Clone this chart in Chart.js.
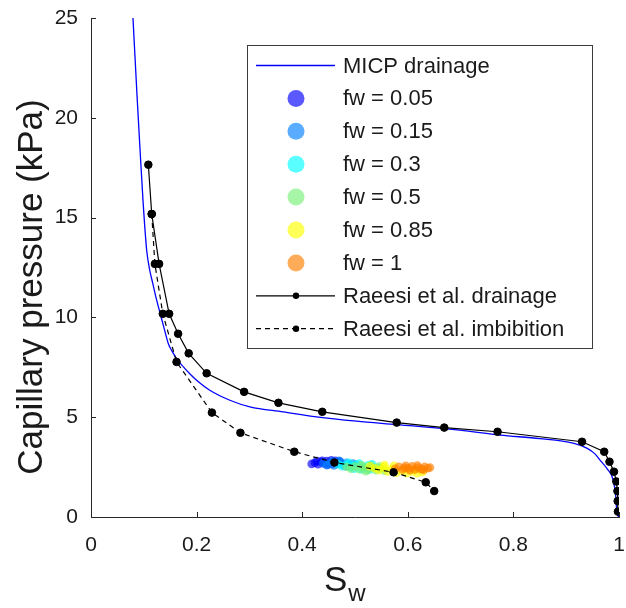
<!DOCTYPE html>
<html>
<head>
<meta charset="utf-8">
<script src="https://cdn.jsdelivr.net/npm/chart.js@4/dist/chart.umd.min.js"></script>
<style>
  html, body { margin: 0; padding: 0; background: #fff; }
  #wrap { width: 626px; height: 608px; }
</style>
</head>
<body>
<div id="wrap"><canvas id="c" width="626" height="608"></canvas></div>
<script>
// Axis ticks
const xTicks = [0, 0.2, 0.4, 0.6, 0.8, 1];
const yTicks = [0, 5, 10, 15, 20, 25];

// MICP drainage curve: water saturation and capillary pressure (kPa)
const micpSw = [0.0795, 0.0877, 0.093, 0.0985, 0.1055, 0.111, 0.117, 0.124, 0.131, 0.139, 0.1465, 0.1527, 0.163, 0.175, 0.188, 0.200, 0.225, 0.263, 0.301, 0.364, 0.427, 0.503, 0.579, 0.699, 0.775, 0.850, 0.913, 0.939, 0.955, 0.964, 0.978, 0.989, 0.994, 0.996, 1.0];
const micpPc = [25.0, 20.85, 18.35, 15.85, 13.35, 12.4, 11.7, 10.9, 10.2, 9.4, 8.68, 8.35, 7.9, 7.52, 7.15, 6.85, 6.35, 5.85, 5.52, 5.27, 5.02, 4.8, 4.63, 4.35, 4.1, 3.93, 3.7, 3.45, 3.15, 2.85, 2.4, 1.85, 1.0, 0.2, 0.0];

// Coreflood steady-state points at each fractional flow
const fw005Sw = [0.418, 0.424, 0.430, 0.436, 0.441, 0.446, 0.450, 0.455, 0.459, 0.463, 0.467, 0.471, 0.448, 0.438, 0.457, 0.428];
const fw005Pc = [2.66, 2.72, 2.64, 2.76, 2.68, 2.80, 2.72, 2.84, 2.76, 2.82, 2.70, 2.78, 2.62, 2.82, 2.66, 2.80];
const fw015Sw = [0.440, 0.447, 0.453, 0.460, 0.466, 0.472, 0.478, 0.484, 0.490, 0.496, 0.470, 0.482, 0.458, 0.502];
const fw015Pc = [2.70, 2.60, 2.72, 2.58, 2.66, 2.76, 2.62, 2.72, 2.58, 2.68, 2.82, 2.54, 2.78, 2.62];
const fw03Sw = [0.468, 0.476, 0.484, 0.492, 0.500, 0.508, 0.516, 0.524, 0.532, 0.540, 0.498, 0.512, 0.488, 0.528];
const fw03Pc = [2.64, 2.54, 2.62, 2.50, 2.60, 2.68, 2.48, 2.58, 2.64, 2.46, 2.42, 2.40, 2.72, 2.38];
const fw05Sw = [0.484, 0.492, 0.500, 0.508, 0.516, 0.524, 0.532, 0.540, 0.548, 0.556, 0.512, 0.530, 0.546, 0.520];
const fw05Pc = [2.52, 2.42, 2.54, 2.40, 2.50, 2.36, 2.48, 2.34, 2.44, 2.32, 2.60, 2.58, 2.54, 2.30];
const fw085Sw = [0.528, 0.538, 0.546, 0.554, 0.562, 0.570, 0.578, 0.588, 0.598, 0.608, 0.618, 0.628, 0.598, 0.556, 0.612, 0.574];
const fw085Pc = [2.54, 2.44, 2.34, 2.50, 2.28, 2.42, 2.22, 2.32, 2.20, 2.28, 2.20, 2.26, 2.40, 2.60, 2.38, 2.56];
const fw1Sw = [0.576, 0.583, 0.590, 0.596, 0.602, 0.608, 0.614, 0.620, 0.626, 0.632, 0.638, 0.642, 0.604, 0.618, 0.630, 0.594];
const fw1Pc = [2.42, 2.52, 2.38, 2.56, 2.44, 2.54, 2.38, 2.48, 2.40, 2.52, 2.44, 2.48, 2.34, 2.58, 2.36, 2.46];

// Raeesi et al. capillary pressure data
const raeDrainSw = [0.1086, 0.115, 0.129, 0.148, 0.165, 0.185, 0.219, 0.290, 0.355, 0.438, 0.579, 0.669, 0.770, 0.930, 0.972, 0.982, 0.9905, 0.995, 0.997, 0.9975, 0.998];
const raeDrainPc = [17.65, 15.18, 12.68, 10.18, 9.18, 8.2, 7.2, 6.27, 5.72, 5.27, 4.73, 4.48, 4.27, 3.77, 3.27, 2.77, 2.27, 1.78, 1.3, 0.8, 0.27];
const raeImbSw = [0.115, 0.121, 0.136, 0.162, 0.229, 0.283, 0.385, 0.461, 0.573, 0.634, 0.650];
const raeImbPc = [15.18, 12.68, 10.18, 7.77, 5.23, 4.22, 3.27, 2.73, 2.24, 1.74, 1.3];

const FONT = '"Liberation Sans", Arial, Helvetica, sans-serif';
const AXIS_COLOR = '#262626';
const TEXT_COLOR = '#1a1a1a';

const pts = (xs, ys) => xs.map((x, i) => ({ x: x, y: ys[i] }));

function scatterSet(label, sw, pc, color) {
  return {
    label: label, data: pts(sw, pc), showLine: false,
    pointRadius: 4.3, pointHoverRadius: 4.3, pointBorderWidth: 0,
    pointBackgroundColor: color, backgroundColor: color, borderColor: color
  };
}

const datasets = [
  { label: 'MICP drainage', data: pts(micpSw, micpPc), showLine: true,
    borderColor: '#0000ff', borderWidth: 1.3, pointRadius: 0, cubicInterpolationMode: 'monotone' },
  scatterSet('fw = 0.05', fw005Sw, fw005Pc, 'rgba(0,0,255,0.65)'),
  scatterSet('fw = 0.15', fw015Sw, fw015Pc, 'rgba(0,128,255,0.65)'),
  scatterSet('fw = 0.3', fw03Sw, fw03Pc, 'rgba(0,255,255,0.65)'),
  scatterSet('fw = 0.5', fw05Sw, fw05Pc, 'rgba(120,240,120,0.65)'),
  scatterSet('fw = 0.85', fw085Sw, fw085Pc, 'rgba(255,255,0,0.65)'),
  scatterSet('fw = 1', fw1Sw, fw1Pc, 'rgba(255,128,0,0.65)'),
  { label: 'Raeesi et al. drainage', data: pts(raeDrainSw, raeDrainPc), showLine: true,
    borderColor: '#000', borderWidth: 1.2, pointRadius: 3.8, pointBorderWidth: 1,
    pointBackgroundColor: '#000', pointBorderColor: '#000', tension: 0 },
  { label: 'Raeesi et al. imbibition', data: pts(raeImbSw, raeImbPc), showLine: true,
    borderColor: '#000', borderWidth: 1.2, borderDash: [5, 4], pointRadius: 3.8, pointBorderWidth: 1,
    pointBackgroundColor: '#000', pointBorderColor: '#000', tension: 0 }
];
// later series are drawn on top
datasets.forEach((d, i) => { d.order = datasets.length - i; });

// Inward ticks, axis titles and the boxed legend
const decor = {
  id: 'decor',
  afterDraw(chart) {
    const ctx = chart.ctx;
    const xs = chart.scales.x, ys = chart.scales.y;
    ctx.save();
    ctx.strokeStyle = AXIS_COLOR;
    ctx.lineWidth = 1;
    ctx.beginPath();
    xTicks.forEach(v => {
      const px = Math.round(xs.getPixelForValue(v)) + 0.5;
      ctx.moveTo(px, ys.bottom); ctx.lineTo(px, ys.bottom - 5);
    });
    yTicks.forEach(v => {
      const py = Math.round(ys.getPixelForValue(v)) + 0.5;
      ctx.moveTo(xs.left, py); ctx.lineTo(xs.left + 5, py);
    });
    ctx.stroke();

    // y title
    ctx.fillStyle = TEXT_COLOR;
    ctx.save();
    ctx.translate(42, 287);
    ctx.rotate(-Math.PI / 2);
    ctx.font = '35px ' + FONT;
    ctx.textAlign = 'center';
    ctx.textBaseline = 'alphabetic';
    ctx.fillText('Capillary pressure (kPa)', 0, 0);
    ctx.restore();

    // x title with subscript
    ctx.textAlign = 'left';
    ctx.textBaseline = 'alphabetic';
    ctx.font = '35px ' + FONT;
    ctx.fillText('S', 324, 591);
    const sW = ctx.measureText('S').width;
    ctx.font = '24px ' + FONT;
    ctx.fillText('w', 324 + sW + 1, 601);

    // legend
    const L = 247.5, T = 45.5, R = 592.5, B = 348.5;
    ctx.fillStyle = '#fff';
    ctx.fillRect(L, T, R - L, B - T);
    ctx.strokeStyle = '#3c3c3c';
    ctx.lineWidth = 1;
    ctx.strokeRect(L, T, R - L, B - T);
    const row0 = 65.5, step = 32.9;
    const x0 = 256, x1 = 335, xm = 296, xt = 343;
    chart.data.datasets.forEach((d, i) => {
      const y = row0 + i * step;
      if (d.showLine) {
        ctx.save();
        ctx.strokeStyle = d.borderColor;
        ctx.lineWidth = d.borderWidth;
        ctx.setLineDash(d.borderDash || []);
        ctx.beginPath();
        ctx.moveTo(x0, y); ctx.lineTo(x1, y);
        ctx.stroke();
        ctx.restore();
        if (d.pointRadius > 0) {
          ctx.fillStyle = d.pointBackgroundColor;
          ctx.beginPath(); ctx.arc(xm, y, 3.2, 0, Math.PI * 2); ctx.fill();
        }
      } else {
        ctx.fillStyle = d.pointBackgroundColor;
        ctx.beginPath(); ctx.arc(xm, y, 8.5, 0, Math.PI * 2); ctx.fill();
      }
      ctx.fillStyle = TEXT_COLOR;
      ctx.font = '22px ' + FONT;
      ctx.textBaseline = 'middle';
      ctx.fillText(d.label, xt, y + 1);
    });
    ctx.restore();
  }
};

// fixed axis box: no extra room reserved for overhanging tick labels
function fixBox(size, prop) {
  return s => {
    s[prop] = size;
    s.paddingTop = 0; s.paddingBottom = 0; s.paddingLeft = 0; s.paddingRight = 0;
  };
}

new Chart(document.getElementById('c'), {
  type: 'scatter',
  data: { datasets: datasets },
  options: {
    responsive: false,
    animation: false,
    devicePixelRatio: 1,
    layout: { padding: { left: 0, right: 7, top: 18, bottom: 0 } },
    plugins: { legend: { display: false }, tooltip: { enabled: false } },
    scales: {
      x: {
        type: 'linear', min: 0, max: 1,
        afterBuildTicks: s => { s.ticks = xTicks.map(v => ({ value: v })); },
        afterFit: fixBox(91, 'height'),
        grid: { display: false, drawTicks: false },
        border: { display: true, color: AXIS_COLOR, width: 1 },
        ticks: { color: TEXT_COLOR, font: { family: FONT, size: 21 }, padding: 16, maxRotation: 0,
                 callback: v => String(v) }
      },
      y: {
        type: 'linear', min: 0, max: 25,
        afterBuildTicks: s => { s.ticks = yTicks.map(v => ({ value: v })); },
        afterFit: fixBox(91, 'width'),
        grid: { display: false, drawTicks: false },
        border: { display: true, color: AXIS_COLOR, width: 1 },
        ticks: { color: TEXT_COLOR, font: { family: FONT, size: 21 }, padding: 13,
                 callback: v => String(v) }
      }
    }
  },
  plugins: [decor]
});
</script>
</body>
</html>
